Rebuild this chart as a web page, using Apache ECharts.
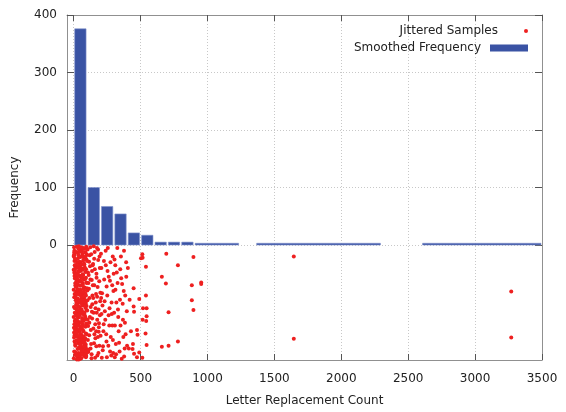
<!DOCTYPE html>
<html>
<head>
<meta charset="utf-8">
<script src="https://cdn.jsdelivr.net/npm/echarts@6/dist/echarts.min.js"></script>
<style>
  html, body { margin: 0; padding: 0; background: #fff; }
  #main { width: 566px; height: 412px; }
</style>
</head>
<body>
<div id="main"></div>
<script>
// histogram bins (letter replacement count) and smoothed frequency
var binStart = [0, 100, 200, 300, 400, 500, 600, 700, 800, 900, 1360, 2600];
var binEnd = [100, 200, 300, 400, 500, 600, 700, 800, 900, 1240, 2300, 3500];
var binHeight = [376, 100, 67, 54, 21, 17, 5, 5, 5, 3, 3, 3];

var xTicks = [0, 500, 1000, 1500, 2000, 2500, 3000, 3500];
var yTicks = [0, 100, 200, 300, 400];

// jittered samples, [count, jitter]
var samplesNearZero = [
  [3,-4],[47,-37],[18,-81],[82,-122],[29,-160],[64,-15],[9,-58],[91,-101],[55,-143],[37,-188],[71,-27],[14,-70],[96,-113],[42,-151],[25,-194],[60,-9],[5,-48],[78,-92],[33,-133],[88,-176],
  [51,-21],[20,-63],[67,-105],[11,-147],[99,-183],[40,-33],[74,-76],[27,-118],[58,-156],[1,-197],[85,-12],[45,-53],[16,-96],[69,-138],[35,-171],[93,-42],[7,-85],[62,-127],[23,-166],[80,-6],
  [50,-30],[12,-67],[87,-109],[31,-149],[57,-190],[2,-18],[76,-60],[43,-98],[19,-140],[65,-179],[38,-2],[8,-44],[73,-88],[26,-124],[54,-163],[95,-25],[15,-72],[61,-115],[44,-158],[4,-185],
  [83,-39],[30,-80],[68,-120],[10,-154],[48,-192],[90,-14],[22,-55],[56,-94],[36,-136],[79,-174],[6,-28],[63,-65],[41,-107],[17,-145],[97,-181],[52,-8],[28,-50],[75,-90],[13,-130],[59,-168],
  [34,-46],[86,-84],[0,-125],[70,-162],[24,-199],[46,-11],[92,-57],[21,-100],[66,-141],[39,-178],[8,-35],[81,-74],[53,-116],[3,-152],[72,-187],[32,-23],[98,-66],[49,-111],[14,-150],[77,-193],
  [60,-41],[19,-86],[89,-128],[44,-169],[6,-16],[71,-52],[28,-93],[55,-134],[11,-172],[94,-3],[37,-62],[65,-104],[2,-144],[82,-184],[25,-31],[50,-78],[16,-121],[74,-159],[41,-196],[9,-49],
  [84,-97],[33,-137],[58,-177],[1,-20],[69,-68],[22,-112],[47,-153],[93,-189],[13,-38],[61,-83],[36,-126],[79,-165],[5,-10],[54,-56],[27,-102],[88,-142],[43,-180],[18,-26],[67,-71],[31,-114],
  [97,-155],[10,-191],[52,-45],[75,-89],[24,-131],[63,-170],[4,-13],[86,-59],[39,-99],[15,-139],[57,-182],[80,-34],[29,-77],[45,-119],[7,-157],[91,-195],[35,-7],[68,-51],[20,-95],[53,-135],
  [12,-175],[76,-22],[40,-64],[96,-106],[26,-146],[62,-186],[0,-43],[49,-87],[83,-129],[17,-167],[70,-5],[34,-47],[59,-91],[8,-132],[90,-173],[42,-29],[21,-73],[72,-117],[3,-161],[48,-198],
  [64,-19],[30,-61],[87,-103],[14,-148],[56,-188],[38,-36],[78,-79],[23,-123],[45,-164],[99,-17],[6,-54],[66,-97],[32,-139],[85,-178],[19,-40],[51,-82],[10,-110],[73,-150],[28,-192],[94,-65],
  [22,-3],[61,-11],[9,-24],[77,-32],[40,-41],[15,-51],[88,-47],[53,-62],[30,-69],[70,-82],[4,-91],[46,-96],[92,-88],[18,-104],[58,-112],[35,-122],[81,-118],[11,-133],[66,-129],[43,-141],
  [97,-137],[24,-157],[71,-149],[49,-173],[6,-168],[86,-162],[29,-181],[63,-190],[38,-199],[94,-193],[56,-4],[33,-14],[89,-20],[12,-35],[69,-43],[47,-71],[26,-84],[80,-101],[2,-108],[62,-145],
  [20,-152],[75,-132],[50,-159],[37,-166],[91,-154],[16,-187],[57,-197],[84,-190],[44,-122],[8,-118],[67,-34],[26,-58],[99,-75],[42,-86],[13,-90],[73,-99],[53,-101],[31,-108],[87,-125],[0,-78],
  [60,-55],[36,-18],[79,-58],[19,-12],[95,-137],[48,-147],[27,-136],[82,-170],[5,-138],[65,-184]
];

var samplesLow = [
  [104,-8],[137,-45],[118,-92],[176,-130],[152,-171],[193,-20],[110,-66],[163,-110],[128,-148],[185,-188],[145,-33],[102,-79],[171,-57],[121,-125],[198,-98],[134,-190],[157,-12],[108,-141],[181,-160],[143,-70],
  [115,-29],[167,-85],[126,-180],[195,-40],[149,-118],[106,-165],[174,-5],[139,-103],[188,-143],[112,-52],[160,-196],[131,-16],[179,-73],[101,-114],[155,-155],[122,-37],[196,-122],[140,-88],[169,-176],[117,-135],
  [183,-26],[135,-61],[109,-186],[165,-100],[147,-145],[191,-63],[124,-4],[172,-118],[103,-96],[158,-42],[130,-172],[187,-151],[114,-76],[153,-24],[177,-192],[138,-128],[107,-48],[162,-162],[199,-83],[127,-108],
  [150,-2],[116,-157],[186,-112],[141,-35],[105,-130],[170,-50],[133,-197],[192,-175],[119,-18],[161,-138],[146,-92],[111,-182],[182,-8],[125,-60],[168,-150],[154,-70],[136,-116],[189,-136],[100,-28],[175,-90]
];

var samplesMid = [
  [204,-15],[262,-55],[231,-98],[289,-140],[217,-183],[275,-30],[246,-72],[208,-120],[293,-165],[239,-10],[268,-110],[222,-150],[281,-192],[253,-45],[212,-84],[297,-80],[236,-130],[259,-175],[226,-28],[285,-120],
  [201,-158],[248,-195],[271,-62],[215,-105],[292,-20],[243,-155],[228,-60],[266,-140],[207,-40],[283,-100],[255,-5],[219,-176],[277,-160],[233,-115],[299,-50],[251,-88],[210,-196],[272,-185],[240,-35],[288,-70],
  [224,-138],[261,-122],[205,-92],[295,-188],[245,-168],
  [305,-25],[362,-68],[331,-112],[388,-155],[317,-190],[376,-10],[346,-95],[308,-140],[393,-55],[339,-170],[368,-130],[322,-48],[381,-180],[353,-20],[312,-78],[397,-115],[336,-150],[359,-198],[326,-5],[385,-88],
  [302,-118],[348,-42],[371,-160],[315,-172],[392,-30],[343,-185],[328,-66],[366,-102],[307,-195],[383,-135],[355,-58],[319,-100],[377,-194],[333,-125],[399,-175],[350,-140],[311,-35],[374,-80],
  [405,-40],[418,-95],[428,-150],[412,-180]
];

var samplesHigh = [
  [513,-16],[692,-15],[503,-23],[515,-22],[895,-21],[779,-35],[540,-38],[659,-55],[689,-67],[883,-70],
  [953,-65],[953,-68],[448,-75],[540,-88],[490,-94],[883,-96],[448,-107],[518,-110],[545,-110],[451,-116],
  [895,-113],[709,-117],[545,-124],[515,-130],[542,-132],[473,-148],[477,-156],[537,-154],[779,-168],[443,-172],
  [545,-174],[659,-177],[709,-175],[440,-181],[490,-187],[451,-189],[473,-195],[513,-196],
  [1645,-20],[1645,-163],[3270,-81],[3270,-161]
];

var samples = samplesNearZero.concat(samplesLow, samplesMid, samplesHigh);

var bars = [];
for (var i = 0; i < binStart.length; i++) {
  bars.push([binStart[i], binEnd[i], binHeight[i]]);
}

var chart = echarts.init(document.getElementById('main'), null, { renderer: 'canvas' });

var font = 'DejaVu Sans';
var gridLine = { show: true, lineStyle: { color: '#c8c8c8', type: [1, 2], width: 1 } };
var frame = { show: true, onZero: false, lineStyle: { color: '#909090' } };

var option = {
  backgroundColor: '#fff',
  animation: false,
  textStyle: { fontFamily: font },
  grid: { left: 67, right: 24, top: 15, bottom: 51 },
  legend: [
    {
      data: [{ name: 'Jittered Samples', icon: 'circle' }],
      right: 38, top: 25, padding: 0,
      align: 'right',
      itemWidth: 38, itemHeight: 4,
      selectedMode: false,
      textStyle: { fontFamily: font, fontSize: 12, color: '#222', padding: [0, 4, 0, 0] }
    },
    {
      data: [{ name: 'Smoothed Frequency', icon: 'rect' }],
      right: 38, top: 42, padding: 0,
      align: 'right',
      itemWidth: 38, itemHeight: 7,
      selectedMode: false,
      textStyle: { fontFamily: font, fontSize: 12, color: '#222', padding: [0, 4, 0, 0] }
    }
  ],
  xAxis: [
    {
      type: 'value', min: -50, max: 3500,
      name: 'Letter Replacement Count',
      nameLocation: 'middle', nameGap: 35,
      nameTextStyle: { fontFamily: font, fontSize: 12, color: '#222' },
      axisLine: frame,
      axisTick: { show: true, inside: true, length: 6, customValues: xTicks, lineStyle: { color: '#555' } },
      axisLabel: {
        customValues: xTicks, margin: 13, fontFamily: font, fontSize: 12, color: '#222',
        formatter: function (v) { return String(v); }
      },
      splitLine: gridLine
    },
    {
      type: 'value', min: -50, max: 3500, position: 'top',
      axisLine: frame,
      axisTick: { show: true, inside: true, length: 6, customValues: xTicks, lineStyle: { color: '#555' } },
      axisLabel: { show: false },
      splitLine: { show: false }
    }
  ],
  yAxis: [
    {
      type: 'value', min: -200, max: 400, interval: 100,
      name: 'Frequency',
      nameLocation: 'middle', nameGap: 46,
      nameTextStyle: { fontFamily: font, fontSize: 12, color: '#222' },
      axisLine: frame,
      axisTick: { show: true, inside: true, length: 7, customValues: yTicks, lineStyle: { color: '#555' } },
      axisLabel: { customValues: yTicks, margin: 10, fontFamily: font, fontSize: 12, color: '#222' },
      splitLine: gridLine
    },
    {
      type: 'value', min: -200, max: 400, interval: 100, position: 'right',
      axisLine: frame,
      axisTick: { show: true, inside: true, length: 7, customValues: yTicks, lineStyle: { color: '#555' } },
      axisLabel: { show: false },
      splitLine: { show: false }
    }
  ],
  series: [
    {
      name: 'Smoothed Frequency',
      type: 'custom',
      xAxisIndex: 0, yAxisIndex: 0,
      itemStyle: { color: '#3a53a4' },
      clip: true,
      renderItem: function (params, api) {
        var p0 = api.coord([api.value(0), api.value(2)]);
        var p1 = api.coord([api.value(1), 0]);
        // leave a thin white gap between neighbouring boxes
        return {
          type: 'rect',
          shape: { x: p0[0] + 1, y: p0[1], width: p1[0] - p0[0] - 2, height: p1[1] - p0[1] },
          style: { fill: '#3a53a4', stroke: '#8393cc', lineWidth: 0.6 }
        };
      },
      encode: { x: [0, 1], y: 2 },
      data: bars
    },
    {
      name: 'Jittered Samples',
      type: 'scatter',
      xAxisIndex: 0, yAxisIndex: 0,
      symbol: 'circle',
      symbolSize: 4,
      itemStyle: { color: '#ee2020', opacity: 1 },
      data: samples
    }
  ]
};

chart.setOption(option);
</script>
</body>
</html>
